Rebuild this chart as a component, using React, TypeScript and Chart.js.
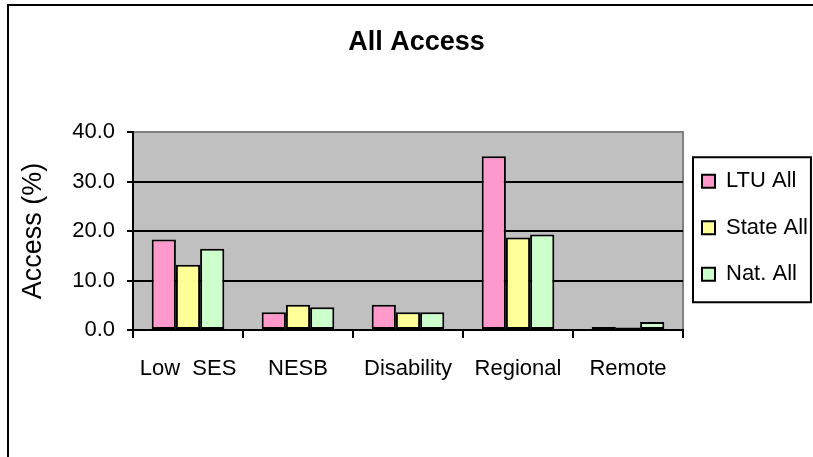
import React, { useEffect, useRef } from 'react';
import { Chart, registerables } from 'chart.js';

Chart.register(...registerables);

const categories = ['Low  SES', 'NESB', 'Disability', 'Regional', 'Remote'];
const seriesNames = ['LTU All', 'State All', 'Nat. All'];
const ltuAll = [18.3, 3.6, 5.1, 35.1, 0.6];
const stateAll = [13.2, 5.1, 3.6, 18.7, 0.5];
const natAll = [16.4, 4.6, 3.6, 19.3, 1.6];
const seriesColors = ['#FF99CC', '#FFFF99', '#CCFFCC'];
const yMin = 0;
const yMax = 40;
const yStep = 10;
const chartTitle = 'All Access';
const yTitle = 'Access (%)';

const FONT = "'Liberation Sans', Arial, Helvetica, sans-serif";

const plotBg = {
  id: 'plotBg',
  beforeDraw(chart: any) {
    const { ctx, chartArea: a } = chart;
    ctx.save();
    ctx.fillStyle = '#C0C0C0';
    ctx.fillRect(a.left, a.top, a.right - a.left, a.bottom - a.top);
    ctx.strokeStyle = '#808080';
    ctx.lineWidth = 2;
    ctx.beginPath();
    ctx.moveTo(a.left, a.top);
    ctx.lineTo(a.right, a.top);
    ctx.lineTo(a.right, a.bottom);
    ctx.stroke();
    ctx.restore();
  },
};

const legendFrame = {
  id: 'legendFrame',
  afterDraw(chart: any) {
    const lg = chart.legend;
    const hb = lg && lg.legendHitBoxes;
    if (!hb || !hb.length) return;
    const { ctx } = chart;
    const left = Math.min(...hb.map((h: any) => h.left)) - 9;
    const right = Math.max(...hb.map((h: any) => h.left + h.width)) + 3;
    const top = hb[0].top - 13;
    const bottom = hb[hb.length - 1].top + 39;
    ctx.save();
    ctx.strokeStyle = '#000';
    ctx.lineWidth = 2;
    ctx.strokeRect(left, top, right - left, bottom - top);
    ctx.restore();
  },
};

export default function App() {
  const ref = useRef<HTMLCanvasElement | null>(null);

  useEffect(() => {
    document.body.style.overflow = 'hidden';
    const canvas = ref.current;
    if (!canvas) return;
    const values = [ltuAll, stateAll, natAll];
    const chart = new Chart(canvas, {
      type: 'bar',
      data: {
        labels: categories,
        datasets: seriesNames.map((name, i) => ({
          label: name,
          data: values[i],
          backgroundColor: seriesColors[i],
          borderColor: '#000',
          borderWidth: 2,
          borderSkipped: false,
          categoryPercentage: 0.66,
          barPercentage: 1.0,
        })),
      },
      options: {
        animation: false,
        responsive: false,
        maintainAspectRatio: false,
        events: [],
        font: { family: FONT },
        color: '#000',
        layout: { padding: { left: 25, right: 5, top: 4, bottom: 0 } },
        plugins: {
          tooltip: { enabled: false },
          title: {
            display: true,
            text: chartTitle,
            color: '#000',
            font: { family: FONT, size: 27, weight: 'bold' },
            padding: { top: 22.8, bottom: 72.8 },
          },
          legend: {
            display: true,
            position: 'right',
            maxWidth: 125,
            labels: {
              color: '#000',
              font: { family: FONT, size: 22, lineHeight: 1.25 },
              boxWidth: 13,
              boxHeight: 13,
              padding: 19,
              generateLabels: (c: any) =>
                Chart.defaults.plugins.legend.labels
                  .generateLabels(c)
                  .map((l: any) => ({ ...l, text: [l.text] })),
            },
          },
        },
        scales: {
          x: {
            afterFit: (s: any) => {
              s.height = 127;
            },
            grid: {
              display: true,
              offset: true,
              drawOnChartArea: false,
              drawTicks: true,
              tickLength: 8,
              color: '#000',
              lineWidth: 2,
            },
            border: { display: true, color: '#000', width: 2 },
            ticks: {
              color: '#000',
              font: { family: FONT, size: 22 },
              padding: 18,
              maxRotation: 0,
              minRotation: 0,
              autoSkip: false,
            },
          },
          y: {
            min: yMin,
            max: yMax,
            afterFit: (s: any) => {
              s.width = 108;
            },
            grid: {
              color: (ctx: any) => (ctx.tick && ctx.tick.value === yMax ? '#808080' : '#000'),
              tickColor: '#000',
              lineWidth: 2,
              drawTicks: true,
              tickLength: 6,
            },
            border: { display: true, color: '#000', width: 2 },
            ticks: {
              stepSize: yStep,
              color: '#000',
              font: { family: FONT, size: 22 },
              padding: 12,
              callback: (v: any) => Number(v).toFixed(1),
            },
            title: {
              display: true,
              text: yTitle,
              color: '#000',
              font: { family: FONT, size: 27 },
              padding: { top: -7.2, bottom: 0 },
            },
          },
        },
      },
      plugins: [plotBg, legendFrame],
    } as any);
    return () => chart.destroy();
  }, []);

  return (
    <div style={{ position: 'fixed', left: 0, top: 0, width: 813, height: 457, background: '#fff' }}>
      <div
        style={{
          position: 'absolute',
          left: 7,
          top: 4,
          width: 900,
          height: 600,
          borderLeft: '2px solid #000',
          borderTop: '2px solid #000',
          boxSizing: 'border-box',
        }}
      />
      <canvas
        ref={ref}
        width={813}
        height={457}
        style={{ position: 'absolute', left: 0, top: 0, width: 813, height: 457 }}
      />
    </div>
  );
}
